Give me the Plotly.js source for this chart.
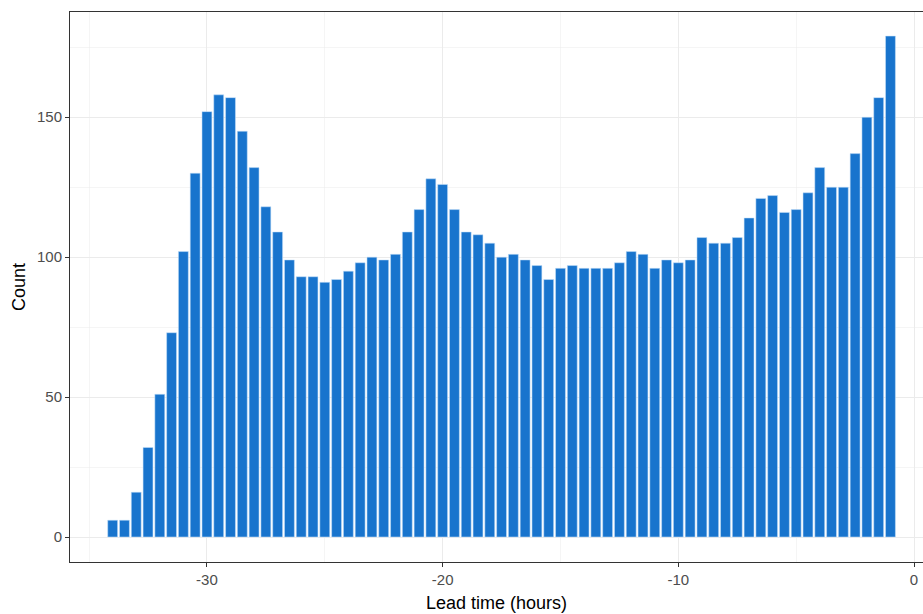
<!DOCTYPE html>
<html>
<head>
<meta charset="utf-8">
<script src="https://cdn.plot.ly/plotly-3.0.1.min.js"></script>
<style>html,body{margin:0;padding:0;background:#fff;}#chart{width:923px;height:614px;}</style>
</head>
<body>
<div id="chart"></div>
<script>
const leadTime = [-34,-33.5,-33,-32.5,-32,-31.5,-31,-30.5,-30,-29.5,-29,-28.5,-28,-27.5,-27,-26.5,-26,-25.5,-25,-24.5,-24,-23.5,-23,-22.5,-22,-21.5,-21,-20.5,-20,-19.5,-19,-18.5,-18,-17.5,-17,-16.5,-16,-15.5,-15,-14.5,-14,-13.5,-13,-12.5,-12,-11.5,-11,-10.5,-10,-9.5,-9,-8.5,-8,-7.5,-7,-6.5,-6,-5.5,-5,-4.5,-4,-3.5,-3,-2.5,-2,-1.5,-1];
const counts = [6,6,16,32,51,73,102,130,152,158,157,145,132,118,109,99,93,93,91,92,95,98,100,99,101,109,117,128,126,117,109,108,105,100,101,99,97,92,96,97,96,96,96,98,102,101,96,99,98,99,107,105,105,107,114,121,122,116,117,123,132,125,125,137,150,157,179];
const xTicks = [-30,-20,-10,0];
const yTicks = [0,50,100,150];

const trace = {
  type: 'bar',
  x: leadTime,
  y: counts,
  width: 0.42,
  marker: {color: '#1874CD', line: {color: 'rgba(200,225,250,0.9)', width: 0.6}},
  hoverinfo: 'x+y'
};

const layout = {
  width: 923, height: 614,
  margin: {l: 70, r: 0, t: 12, b: 52},
  paper_bgcolor: '#ffffff',
  plot_bgcolor: '#ffffff',
  showlegend: false,
  font: {family: 'Liberation Sans, Arial, sans-serif', color: '#4D4D4D', size: 15},
  xaxis: {
    range: [-35.81, 0.38],
    tickmode: 'array', tickvals: xTicks, ticktext: xTicks.map(String),
    ticks: 'outside', ticklen: 4, tickcolor: '#333333', tickwidth: 1,
    showgrid: true, gridcolor: '#EBEBEB', gridwidth: 1,
    minor: {tickmode: 'array', tickvals: [-35,-25,-15,-5], showgrid: true, gridcolor: '#EBEBEB', gridwidth: 0.5, ticks: ''},
    showline: true, linecolor: '#333333', linewidth: 1, mirror: true,
    zeroline: false,
    tickfont: {color: '#4D4D4D', size: 15},
    title: {text: 'Lead time (hours)', font: {color: '#000000', size: 18}, standoff: 9}
  },
  yaxis: {
    range: [-8.93, 187.6],
    tickmode: 'array', tickvals: yTicks, ticktext: yTicks.map(String),
    ticks: 'outside', ticklen: 4, tickcolor: '#333333', tickwidth: 1,
    showgrid: true, gridcolor: '#EBEBEB', gridwidth: 1,
    minor: {tickmode: 'array', tickvals: [25,75,125,175], showgrid: true, gridcolor: '#EBEBEB', gridwidth: 0.5, ticks: ''},
    showline: true, linecolor: '#333333', linewidth: 1, mirror: false,
    zeroline: false,
    tickfont: {color: '#4D4D4D', size: 15},
    title: {text: 'Count', font: {color: '#000000', size: 18}, standoff: 6}
  }
};

Plotly.newPlot('chart', [trace], layout, {staticPlot: true, displayModeBar: false});
</script>
</body>
</html>
